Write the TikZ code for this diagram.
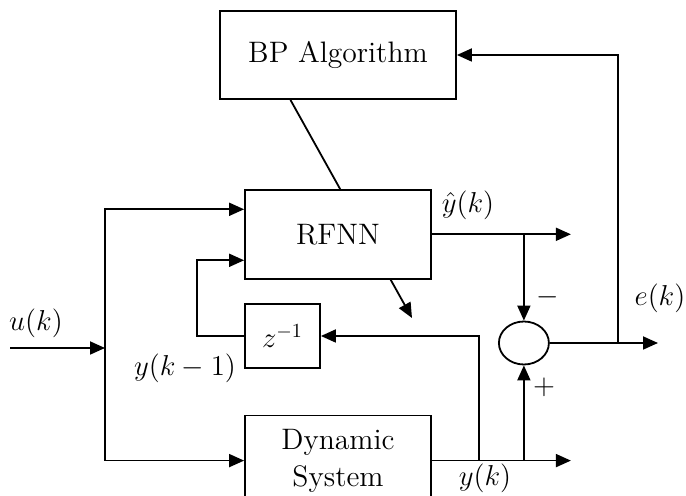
\documentclass[tikz,border=0pt]{standalone}
\usepackage{amsmath}
\usepackage{tikz}
\usetikzlibrary{arrows.meta, positioning, calc, shapes.geometric}

\begin{document}
\begin{tikzpicture}[x=0.5pt, y=-0.5pt, font=\fontsize{14.8}{18.5}\selectfont,
    block/.style={draw, line width=0.9pt, fill=white, align=center, inner sep=0pt},
    sig/.style={line width=0.9pt, -{Triangle[length=7.5pt, width=6.5pt]}},
    lbl/.style={inner sep=1pt}]
  \useasboundingbox (0,0) rectangle (686,496);

  % blocks
  \node[block, minimum width=118pt, minimum height=44pt] (bp) at (338,55) {BP Algorithm};
  \coordinate (adapt) at (412,318);
  \draw[sig] ($(bp.south west)!0.3!(bp.south east)$) -- (adapt);
  \node[block, minimum width=93pt, minimum height=44.5pt,
        below=44.5pt of bp] (rfnn) {RFNN};
  \node[block, minimum width=37.5pt, minimum height=32pt] (zdel) at (282.5,336) {$z^{-1}$};
  \node[block, minimum width=93pt, minimum height=45pt,
        below=67.5pt of rfnn] (dyn) {Dynamic\\System};

  % split points
  \coordinate (yhatout) at ([xshift=69.5pt]rfnn.east);
  \coordinate (ysplit1) at ([xshift=46pt]rfnn.east);
  \coordinate (yout) at ([xshift=69.5pt]dyn.east);
  \coordinate (ysplit2) at ([xshift=23.5pt]dyn.east);
  \coordinate (ysplit3) at (ysplit1 |- yout);
  \coordinate (eout) at (658,343);
  \coordinate (esplit) at (618,343);
  \node[draw, ellipse, line width=0.9pt, minimum width=25pt, minimum height=21.5pt,
        inner sep=0pt] (sum) at (ysplit1 |- esplit) {};

  % input u(k)
  \coordinate (uin) at (10,348);
  \coordinate (usplit) at (105,348);
  \draw[sig] (uin) -- (usplit);
  \draw[sig] (usplit) |- ([yshift=12.5pt]rfnn.west);
  \draw[sig] (usplit) |- (dyn.west);

  % delayed output back into the network
  \draw[sig] (zdel.west) -- ++(-47,0) |- ([yshift=-13pt]rfnn.west);

  % network output
  \draw[sig] (rfnn.east) -- (yhatout);
  \draw[sig] (ysplit1) -- (sum.north);

  % plant output
  \draw[sig] (dyn.east) -- (yout);
  \draw[sig] (ysplit2) |- (zdel.east);
  \draw[sig] (ysplit3) -- (sum.south);

  % error
  \draw[sig] (sum.east) -- (eout);
  \draw[sig] (esplit) |- (bp.east);

  % labels
  \node[lbl] (uk) at (36,323) {$u(k)$};
  \node[lbl] (ykm) at (185,368) {$y(k-1)$};
  \node[lbl] (yhat) at (468,205) {$\hat{y}(k)$};
  \node[lbl] (ek) at (660,298) {$e(k)$};
  \node[lbl] (yk) at (485,478) {$y(k)$};
  \node[lbl] (minus) at (548,297) {$-$};
  \node[lbl] (plus) at (544,387) {$+$};
\end{tikzpicture}
\end{document}
